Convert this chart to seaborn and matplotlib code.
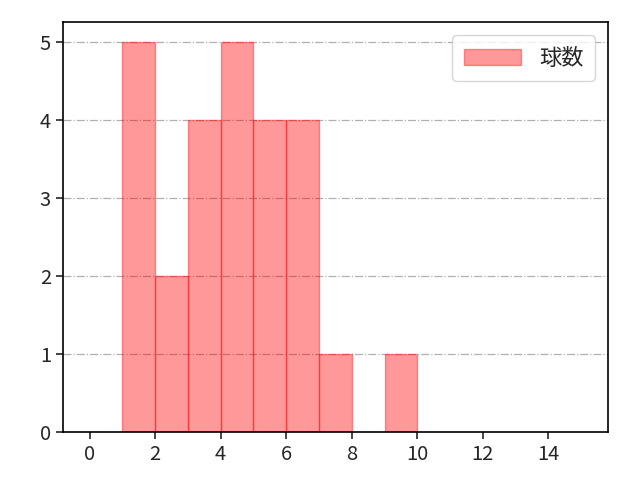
import matplotlib
matplotlib.use("Agg")
from matplotlib import pyplot as plt
import numpy as np
import pandas
import seaborn as sns

# pitch count histogram data (bin left edge -> count)
bin_left = [1, 2, 3, 4, 5, 6, 7, 8, 9]
counts = [5, 2, 4, 5, 4, 4, 1, 0, 1]
bin_edges = list(range(1, 11))
x_ticks = [0, 2, 4, 6, 8, 10, 12, 14]
label = "球数"

sns.set_style("ticks")
plt.rcParams['font.family'] = ['Noto Sans CJK JP', 'DejaVu Sans']

df = pandas.DataFrame({"value": np.array(bin_left) + 0.5, "count": counts})

fig, ax = plt.subplots(figsize=(6.4, 4.8), dpi=100)
sns.histplot(data=df, x="value", weights="count", bins=bin_edges, ax=ax,
             color=(1, 0, 0, 0.4), edgecolor=(1, 0, 0, 0.4), linewidth=1.0,
             alpha=None, label=label)

ax.set_xlim(-0.82, 15.82)
ax.set_xticks(x_ticks)
ax.set_ylim(0, 5.25)
ax.set_xlabel("")
ax.set_ylabel("")
ax.tick_params(labelsize=14.5, width=1.2, length=5)
ax.grid(axis="y", linestyle="-.", color="#b0b0b0", linewidth=0.9)
ax.set_axisbelow(True)
for s in ax.spines.values():
    s.set_visible(True)
    s.set_color("black")
    s.set_linewidth(1.2)
ax.legend(loc="upper right", fontsize=16, borderpad=0.5, handlelength=2.6,
          borderaxespad=0.6)

plt.subplots_adjust(left=0.098, right=0.95, top=0.954, bottom=0.1)
plt.savefig("out.png")
